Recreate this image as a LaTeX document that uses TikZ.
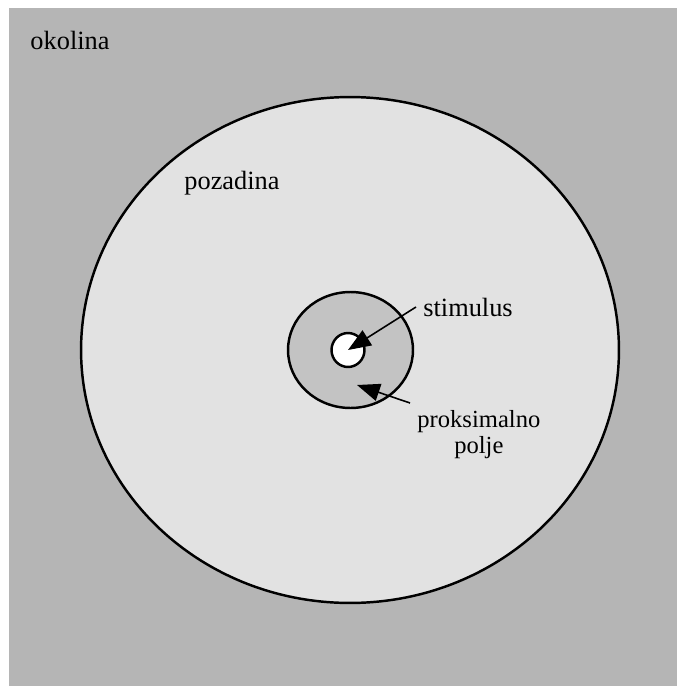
\documentclass[tikz,border=0pt]{standalone}
\usepackage{fontspec}
\setmainfont{Liberation Serif}
\usetikzlibrary{shapes.geometric,arrows.meta,positioning}
\definecolor{okolinagray}{RGB}{181,181,181}
\definecolor{pozadinagray}{RGB}{226,226,226}
\definecolor{poljegray}{RGB}{195,195,195}
\tikzset{
  zone/.style={
    shape = ellipse,
    draw = black,
    inner sep = 0pt,
    line width = 1.4pt
  },
  lbl/.style={
    inner sep = 1pt,
    font = \fontsize{15}{17}\selectfont
  },
  pointer/.style={
    -{Triangle[length=13pt,width=10pt]},
    line width = 0.9pt
  }
}
\begin{document}
\begin{tikzpicture}[x=0.02cm,y=-0.02cm]
  \useasboundingbox (0,0) rectangle (677,686);
  \fill[okolinagray] (9,8) rectangle (677,686);
  % zones
  \node[zone, fill=pozadinagray, minimum width=10.76cm, minimum height=10.12cm] (pozadina) at (350,350) {};
  \node[zone, fill=poljegray, minimum width=2.5cm, minimum height=2.32cm] (polje) at (350.5,350) {};
  \node[zone, fill=white, minimum width=0.66cm, minimum height=0.68cm] (stim) at (348,350) {};
  \coordinate (poljetip) at (357,385);
  % labels
  \node[lbl] (okolinatxt) at (70,40) {okolina};
  \node[lbl] (pozadinatxt) at (232,183) {pozadina};
  \node[lbl, inner sep=4pt, anchor=west] (stimtxt) at (416,307) {stimulus};
  \node[lbl, inner sep=4pt, align=center, anchor=north west,
        font=\fontsize{14}{15}\selectfont] (poljetxt) at (410,403) {proksimalno\\polje};
  % arrows
  \draw[pointer] (stimtxt.west) -- (stim.center);
  \draw[pointer] (poljetxt.north west) -- (poljetip);
\end{tikzpicture}
\end{document}
